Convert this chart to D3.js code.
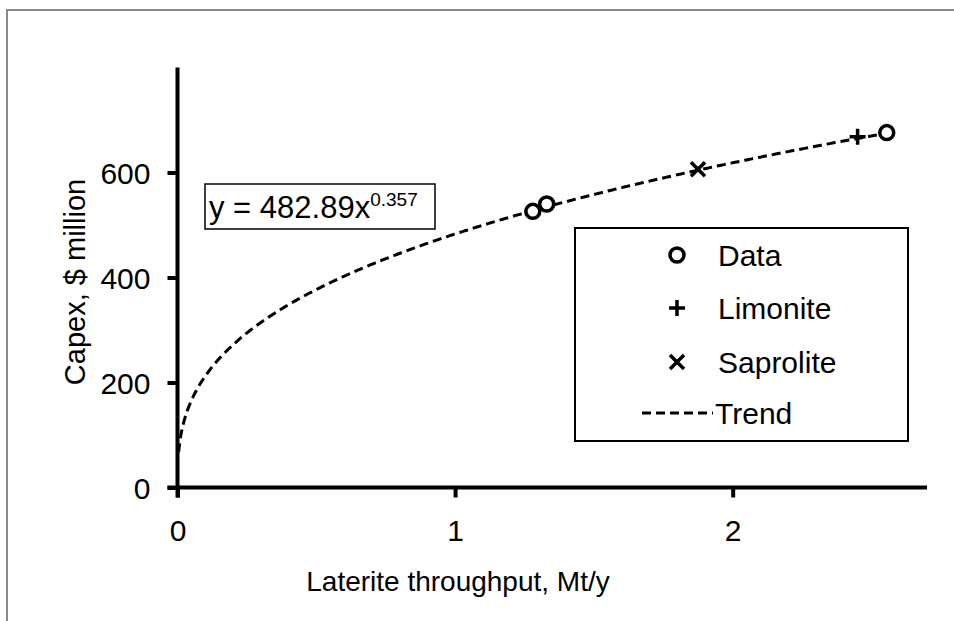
<!DOCTYPE html>
<html>
<head>
<meta charset="utf-8">
<script src="https://cdn.jsdelivr.net/npm/d3@7"></script>
<style>
  body { margin: 0; background: #fff; }
  svg { display: block; font-family: "Liberation Sans", Arial, sans-serif; }
</style>
</head>
<body>
<svg></svg>
<script>
const width = 954, height = 621;

// data
const dataX = [1.28, 1.33, 2.555];
const dataY = [526, 540, 676];
const limoniteX = [2.45], limoniteY = [668];
const saproliteX = [1.875], saproliteY = [606];
const trendA = 482.89, trendB = 0.357;
const xTicks = [0, 1, 2];
const yTicks = [0, 200, 400, 600];
const legendLabels = ["Data", "Limonite", "Saprolite", "Trend"];

const svg = d3.select("svg").attr("width", width).attr("height", height);

// outer gray frame (top + left only visible)
svg.append("path")
  .attr("d", "M7,621 V10 H954")
  .attr("fill", "none")
  .attr("stroke", "#8c8c8c")
  .attr("stroke-width", 2);

const x = d3.scaleLinear().domain([0, 2.7]).range([177.5, 927]);
const y = d3.scaleLinear().domain([0, 800]).range([487.5, 67.5]);

// trend curve
const trendPts = d3.range(0.004, 2.56, 0.005).map(v => [v, trendA * Math.pow(v, trendB)]);
trendPts.push([2.555, trendA * Math.pow(2.555, trendB)]);
svg.append("path")
  .datum(trendPts)
  .attr("fill", "none")
  .attr("stroke", "#000")
  .attr("stroke-width", 3)
  .attr("stroke-dasharray", "9,5")
  .attr("d", d3.line().x(d => x(d[0])).y(d => y(d[1])));

// axes
const xAxis = svg.append("g")
  .attr("transform", `translate(0,${y(0)})`)
  .call(d3.axisBottom(x).tickValues(xTicks).tickSize(10).tickSizeOuter(0).tickFormat(d3.format("d")));
const yAxis = svg.append("g")
  .attr("transform", `translate(${x(0)},0)`)
  .call(d3.axisLeft(y).tickValues(yTicks).tickSize(10).tickSizeOuter(0).tickFormat(d3.format("d")));

[xAxis, yAxis].forEach(g => {
  g.select(".domain").attr("stroke", "#000").attr("stroke-width", 4);
  g.selectAll(".tick line").attr("stroke", "#000").attr("stroke-width", 4);
  g.selectAll(".tick text")
    .attr("fill", "#000")
    .attr("font-size", 30)
    .attr("font-family", "Liberation Sans, Arial, sans-serif");
});
xAxis.select(".domain").attr("d", `M${x(0) - 10},0H${x(2.7)}`);
yAxis.select(".domain").attr("d", `M0,${y(0) + 10}V${y(800)}`);
xAxis.selectAll(".tick text").attr("y", 0).attr("dy", 53);
yAxis.selectAll(".tick text").attr("x", -27).attr("dy", "0.36em");

// axis titles
svg.append("text")
  .attr("x", 458).attr("y", 591)
  .attr("text-anchor", "middle")
  .attr("font-size", 28)
  .text("Laterite throughput, Mt/y");
svg.append("text")
  .attr("transform", "translate(85,282) rotate(-90)")
  .attr("text-anchor", "middle")
  .attr("font-size", 29)
  .text("Capex, $ million");

// marker helpers
function circleMark(g, cx, cy) {
  g.append("circle").attr("cx", cx).attr("cy", cy).attr("r", 7)
    .attr("fill", "#fff").attr("stroke", "#000").attr("stroke-width", 3.5);
}
function plusMark(g, cx, cy) {
  g.append("path").attr("d", `M${cx - 8},${cy}H${cx + 8}M${cx},${cy - 8}V${cy + 8}`)
    .attr("stroke", "#000").attr("stroke-width", 3.5);
}
function crossMark(g, cx, cy) {
  g.append("path").attr("d", `M${cx - 7},${cy - 7}L${cx + 7},${cy + 7}M${cx - 7},${cy + 7}L${cx + 7},${cy - 7}`)
    .attr("stroke", "#000").attr("stroke-width", 3.5);
}

const marks = svg.append("g");
dataX.forEach((v, i) => circleMark(marks, x(v), y(dataY[i])));
limoniteX.forEach((v, i) => plusMark(marks, x(v), y(limoniteY[i])));
saproliteX.forEach((v, i) => crossMark(marks, x(v), y(saproliteY[i])));

// equation box
const eq = svg.append("g");
eq.append("rect").attr("x", 205).attr("y", 184).attr("width", 230).attr("height", 45)
  .attr("fill", "#fff").attr("stroke", "#000").attr("stroke-width", 1.5);
const eqText = eq.append("text").attr("x", 209).attr("y", 218).attr("font-size", 31);
eqText.append("tspan").text(`y = ${trendA}x`);
eqText.append("tspan").attr("dy", -12).attr("font-size", 19).text(trendB);

// legend
const legend = svg.append("g");
legend.append("rect").attr("x", 575).attr("y", 228).attr("width", 333).attr("height", 213)
  .attr("fill", "#fff").attr("stroke", "#000").attr("stroke-width", 2);
const rowY = [255, 308, 362, 413];
legendLabels.forEach((lab, i) => {
  const cy = rowY[i];
  if (i === 0) circleMark(legend, 677, cy);
  if (i === 1) plusMark(legend, 677, cy);
  if (i === 2) crossMark(legend, 677, cy);
  if (i === 3) legend.append("line").attr("x1", 642).attr("x2", 713).attr("y1", cy).attr("y2", cy)
    .attr("stroke", "#000").attr("stroke-width", 3).attr("stroke-dasharray", "9,5");
  legend.append("text").attr("x", i === 3 ? 715 : 718).attr("y", cy).attr("dy", "0.36em")
    .attr("font-size", 30).text(lab);
});
</script>
</body>
</html>
